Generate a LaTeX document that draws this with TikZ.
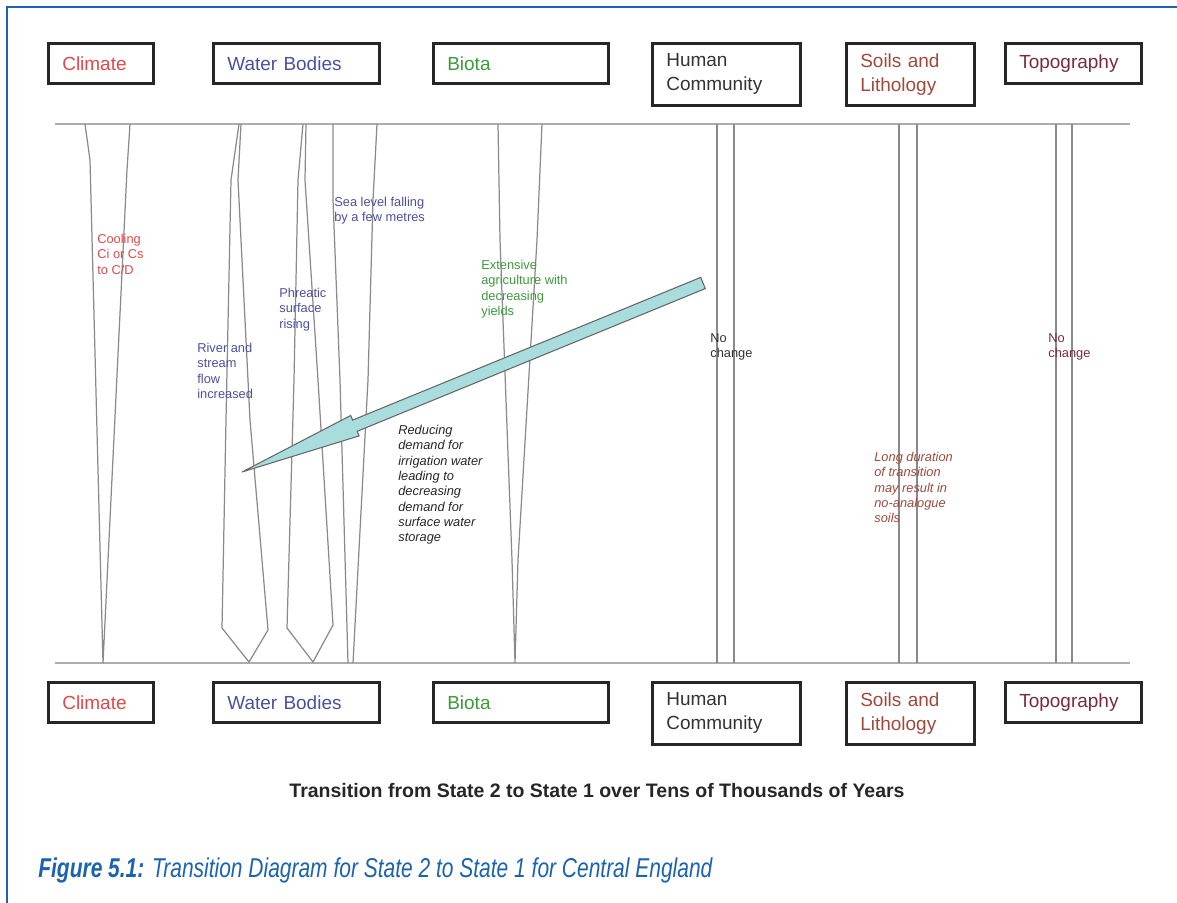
\documentclass[tikz,border=0pt]{standalone}
\usepackage{fontspec}
\setmainfont{Liberation Sans}
\newfontfamily\capfont[FakeStretch=0.77]{Liberation Sans}
\usepackage{tikz}

\definecolor{frameblue}{HTML}{1B63B0}
\definecolor{climred}{HTML}{E0484A}
\definecolor{waterblue}{HTML}{4B4FA0}
\definecolor{biogreen}{HTML}{3C9A3C}
\definecolor{soilbrown}{HTML}{A0483A}
\definecolor{topored}{HTML}{7A2A3A}
\definecolor{arrowfill}{HTML}{A9DCDD}
\definecolor{linegrey}{HTML}{8A8A8A}

\begin{document}
\begin{tikzpicture}[x=0.02cm,y=-0.02cm,
  box/.style={draw=black!85,line width=1.5pt,anchor=north west,inner xsep=0.28cm,inner ysep=0pt,
    align=left,minimum height=0.8cm,font=\fontsize{10.8}{13.6}\selectfont},
  tall/.style={minimum height=1.24cm},
  note/.style={anchor=north west,inner sep=0pt,align=left,font=\fontsize{7.3}{8.7}\selectfont},
  trans/.style={draw=linegrey,line width=0.7pt}]
\useasboundingbox (0,0) rectangle (1177,903);
% frame
\draw[frameblue,line width=1.7pt] (7,903) -- (7,7) -- (1177,7);
% headings, top row
\node[box,text width=1.54cm,text=climred] (t1) at (47,42) {Climate};
\node[box,text width=2.76cm,text=waterblue] (t2) at (212,42) {Water Bodies};
\node[box,text width=2.94cm,text=biogreen] (t3) at (432,42) {Biota};
\node[box,tall,text width=2.40cm,text=black!80] (t4) at (651,42) {Human\\Community};
\node[box,tall,text width=2.00cm,text=soilbrown] (t5) at (845,42) {Soils and\\Lithology};
\node[box,text width=2.16cm,text=topored] (t6) at (1004,42) {Topography};
% headings, bottom row
\node[box,text width=1.54cm,text=climred] (b1) at (47,681) {Climate};
\node[box,text width=2.76cm,text=waterblue] (b2) at (212,681) {Water Bodies};
\node[box,text width=2.94cm,text=biogreen] (b3) at (432,681) {Biota};
\node[box,tall,text width=2.40cm,text=black!80] (b4) at (651,681) {Human\\Community};
\node[box,tall,text width=2.00cm,text=soilbrown] (b5) at (845,681) {Soils and\\Lithology};
\node[box,text width=2.16cm,text=topored] (b6) at (1004,681) {Topography};
% state lines
\draw[linegrey!70,line width=1.1pt] (55,124) -- (1130,124);
\draw[linegrey!70,line width=1.1pt] (55,663) -- (1130,663);
% climate
\draw[trans] (85,124) -- (90,160) -- (103,663) -- (127,170) -- (130,124);
% water bodies
\draw[trans] (239,124) -- (231,180) -- (226,420) -- (222,628) -- (249,662) -- (268,630) -- (250,420) -- (238,180) -- (241,124);
\draw[trans] (303,124) -- (298,180) -- (294,380) -- (287,628) -- (313,662) -- (333,625) -- (318,380) -- (305,180) -- (306,124);
\draw[trans] (333,124) -- (333,200) -- (340,380) -- (348,663);
\draw[trans] (377,124) -- (373,200) -- (368,380) -- (353,663);
% biota
\draw[trans] (498,124) -- (500,240) -- (512,560) -- (515,663) -- (518,560) -- (537,240) -- (542,124);
% no change
\draw[trans] (717,124) -- (717,663);
\draw[trans] (734,124) -- (734,663);
\draw[trans] (899,124) -- (899,663);
\draw[trans] (917,124) -- (917,663);
\draw[trans] (1056,124) -- (1056,663);
\draw[trans] (1072,124) -- (1072,663);
% notes
\node[note,text=climred] (n1) at (97,234) {Cooling\\Ci or Cs\\to C/D};
\node[note,text=waterblue] (n2) at (197,343) {River and\\stream\\flow\\increased};
\node[note,text=waterblue] (n3) at (279,288) {Phreatic\\surface\\rising};
\node[note,text=waterblue] (n4) at (334,197) {Sea level falling\\by a few metres};
\node[note,text=biogreen] (n5) at (481,260) {Extensive\\agriculture with\\decreasing\\yields};
\node[note,text=black!80] (n6) at (710,333) {No\\change};
\node[note,text=soilbrown,font=\itshape\fontsize{7.3}{8.7}\selectfont] (n7) at (874,452) {Long duration\\of transition\\may result in\\no-analogue\\soils};
\node[note,text=topored] (n8) at (1048,333) {No\\change};
\node[note,text=black!85,font=\itshape\fontsize{7.3}{8.7}\selectfont] (n9) at (398,425) {Reducing\\demand for\\irrigation water\\leading to\\decreasing\\demand for\\surface water\\storage};
% big arrow
\draw[fill=arrowfill,draw=black!60,line width=0.6pt] (700.7,277.4) -- (352.6,420.1) -- (350.7,415.5) -- (242,472)
  -- (359.1,435.9) -- (357.2,431.3) -- (705.3,288.6) -- cycle;
% titles
\node[font=\bfseries\fontsize{11.1}{13}\selectfont,text=black!85] (title) at (597,791) {Transition from State 2 to State 1 over Tens of Thousands of Years};
\node[anchor=base west,inner sep=0pt,text=frameblue,font=\capfont\fontsize{15.5}{18}\selectfont] (cap) at (38,877)
  {\textbf{\textit{Figure 5.1:}} \textit{Transition Diagram for State 2 to State 1 for Central England}};
\end{tikzpicture}
\end{document}
